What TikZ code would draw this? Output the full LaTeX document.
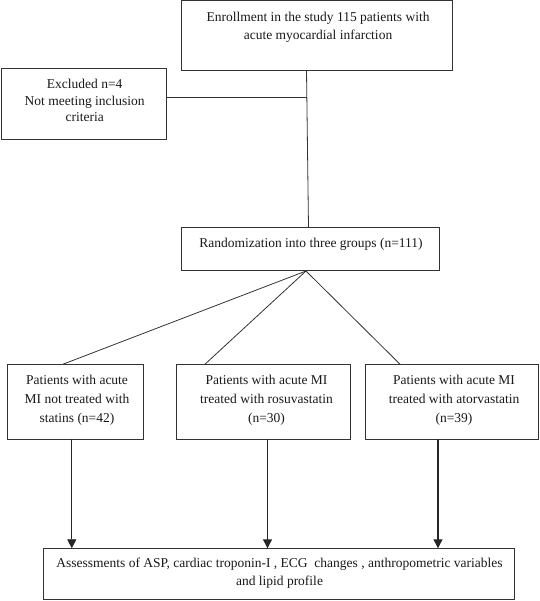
\documentclass[tikz,border=0pt]{standalone}
\usepackage{fontspec}
\setmainfont{Liberation Serif}
\usetikzlibrary{arrows.meta}
\begin{document}
\begin{tikzpicture}[x=1pt,y=-1pt,
  box/.style={draw=black!80, line width=0.9pt, inner sep=0pt, outer sep=0pt, rectangle},
  txt/.style={align=center, inner sep=0pt, anchor=north, text=black!90},
  link/.style={draw=black!80, line width=0.8pt},
  arr/.style={draw=black!85, line width=1pt, -{Triangle[length=9pt,width=9pt]}}]
\useasboundingbox (0,0) rectangle (539,601);
% boxes
\node[box, minimum width=271pt, minimum height=70pt] (top) at (316.5,35.6) {};
\node[box, minimum width=165pt, minimum height=71pt] (excl) at (84.3,103.5) {};
\node[box, minimum width=258pt, minimum height=43pt] (rand) at (310,249.3) {};
\node[box, minimum width=136pt, minimum height=75pt] (g1) at (75.8,401.7) {};
\node[box, minimum width=174pt, minimum height=75pt] (g2) at (263,401.7) {};
\node[box, minimum width=172.6pt, minimum height=75pt] (g3) at (452,401.7) {};
\node[box, minimum width=471pt, minimum height=51pt] (fin) at (278.5,573.8) {};
% texts
\node[txt, font=\fontsize{13.5}{18.6}\selectfont] (ttop) at (318,11.5)
  {Enrollment in the study 115 patients with\\acute myocardial infarction};
\node[txt, font=\fontsize{13.5}{16.5}\selectfont] (texcl) at (84.7,79.1)
  {Excluded n=4\\Not meeting inclusion\\criteria};
\node[txt, font=\fontsize{13.5}{18}\selectfont] (trand) at (311,238.1)
  {Randomization into three groups (n=111)};
\node[txt, font=\fontsize{13.5}{19}\selectfont] (tg1) at (77,374.8)
  {Patients with acute\\MI not treated with\\statins (n=42)};
\node[txt, font=\fontsize{13.5}{19}\selectfont] (tg2) at (266.5,374.8)
  {Patients with acute MI\\treated with rosuvastatin\\(n=30)};
\node[txt, font=\fontsize{13.5}{19}\selectfont] (tg3) at (454,374.8)
  {Patients with acute MI\\treated with atorvastatin\\(n=39)};
\node[txt, font=\fontsize{13.5}{18}\selectfont] (tfin) at (279.5,557.8)
  {Assessments of ASP, cardiac troponin-I , ECG\ \ changes , anthropometric variables\\and lipid profile};
% helper coordinates
\coordinate (xa) at (306.5,0);
\coordinate (xb) at (308.5,0);
\coordinate (j1) at (306.6,97.7);
\coordinate (apex) at (306,271);
\coordinate (x1) at (63,0);
\coordinate (x2) at (205,0);
\coordinate (x3) at (400,0);
\coordinate (a1) at (71.8,0);
\coordinate (a2) at (267.5,0);
\coordinate (a3) at (438,0);
% connectors
\draw[link] (top.south -| xa) -- (rand.north -| xb);
\draw[link] (j1 -| excl.east) -- (j1);
\draw[link] (apex) -- (g1.north -| x1);
\draw[link] (apex) -- (g2.north -| x2);
\draw[link] (apex) -- (g3.north -| x3);
\draw[arr, line width=0.7pt] (g1.south -| a1) -- (fin.north -| a1);
\draw[arr, line width=1.2pt] (g2.south -| a2) -- (fin.north -| a2);
\draw[arr, line width=1.2pt] (g3.south -| a3) -- (fin.north -| a3);
\end{tikzpicture}
\end{document}
